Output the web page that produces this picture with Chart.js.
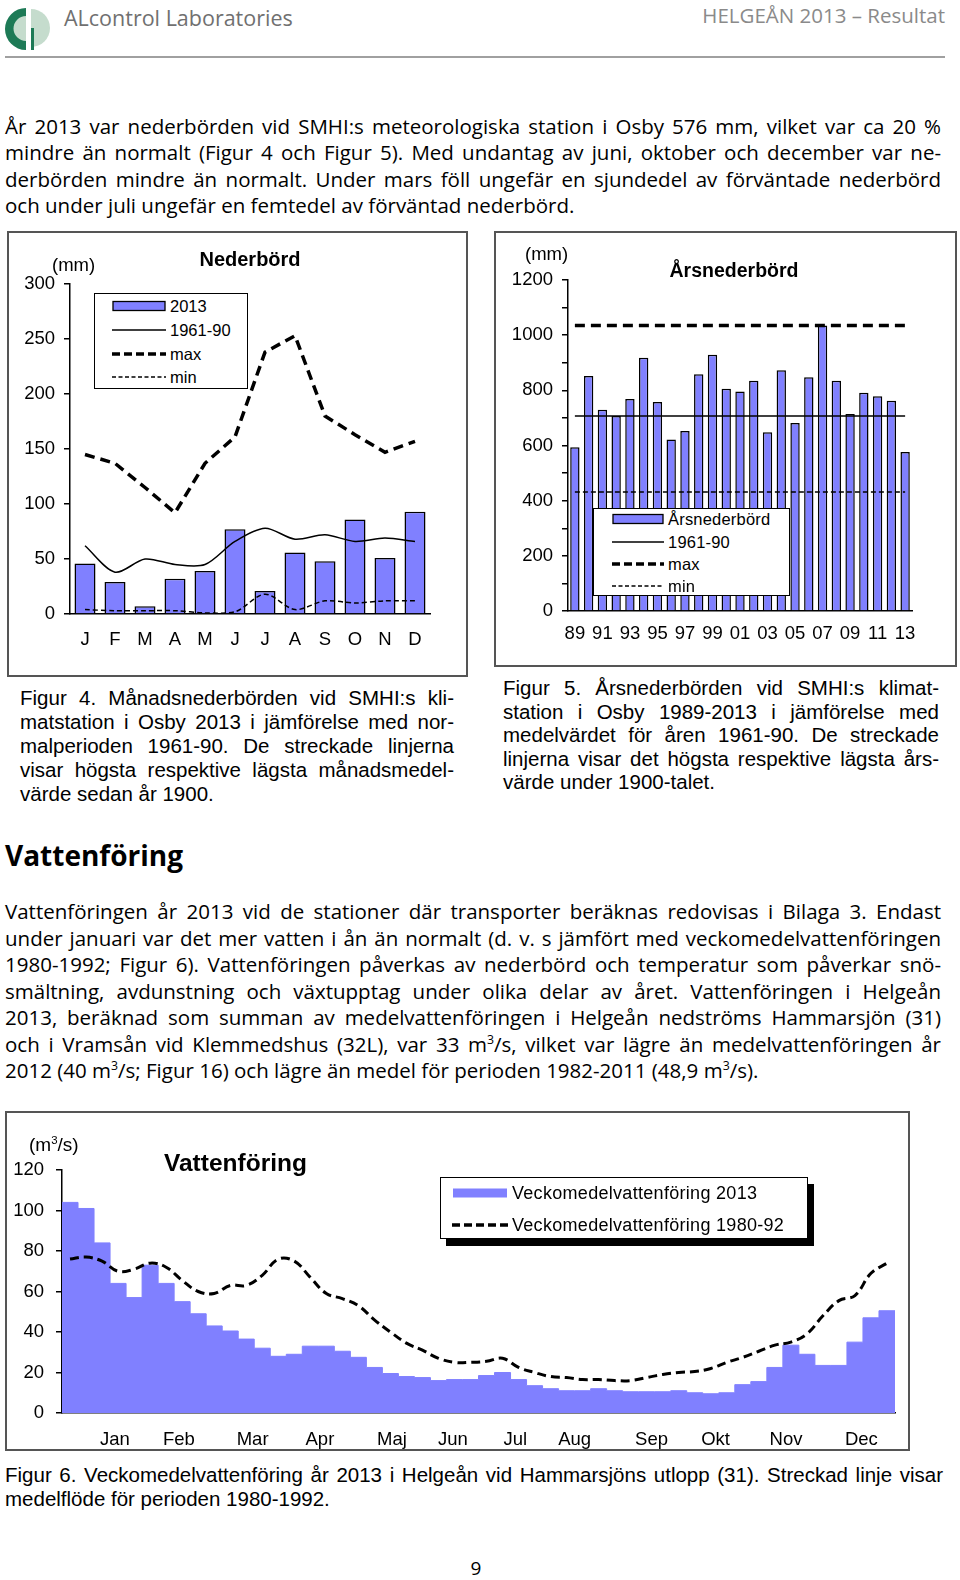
<!DOCTYPE html>
<html lang="sv">
<head>
<meta charset="utf-8">
<title>HELGEÅN 2013 – Resultat</title>
<script src="https://cdn.jsdelivr.net/npm/chart.js@4.4.0/dist/chart.umd.min.js"></script>
<style>
  body { margin: 0; background: #fff; }
  #page { position: relative; width: 960px; height: 1580px; overflow: hidden; color: #000; font-family: "Open Sans", sans-serif; }
  .a { position: absolute; white-space: nowrap; }
  .para { position: absolute; font-family: "Open Sans", sans-serif; font-size: 20.5px; }
  .cap { position: absolute; font-family: "Liberation Sans", Arial, sans-serif; font-size: 20.5px; }
  .ln { text-align: justify; text-align-last: justify; }
  .last { text-align: left; text-align-last: left; }
  .box { position: absolute; box-sizing: border-box; border: 2px solid #555; }
  .lbox { position: absolute; box-sizing: border-box; border: 1.5px solid #000; background: #fff; }
  canvas { position: absolute; }
  .cf { font-family: "Liberation Sans", Arial, sans-serif; }
  sup { font-size: 0.6em; line-height: 0; }
</style>
</head>
<body>
<div id="page">

  <!-- header -->
  <svg class="a" style="left:4px;top:4px" width="48" height="48" viewBox="0 0 48 48">
    <circle cx="27" cy="24" r="19" fill="#c5dccd"/>
    <path d="M22 4 A20 20 0 0 0 22 46 L22 37 A12 12 0 0 1 22 12 Z" fill="#1d7a56"/>
    <rect x="22" y="4" width="5" height="42" fill="#fff"/>
    <rect x="27" y="24" width="3" height="22" fill="#1d7a56"/>
  </svg>
  <div class="a" style="left:64px;top:4px;font-size:21.5px;line-height:28px;color:#707070">ALcontrol Laboratories</div>
  <div class="a" style="right:15px;top:2px;font-size:20.5px;line-height:26px;color:#8a8a8a">HELGEÅN 2013 – Resultat</div>
  <div class="a" style="left:5px;top:56px;width:940px;height:0;border-top:2px solid #a0a0a0"></div>

  <!-- paragraph 1 -->
  <div class="para" style="left:5px;top:113px;width:936px;line-height:26.3px">
    <div class="ln">År 2013 var nederbörden vid SMHI:s meteorologiska station i Osby 576 mm, vilket var ca 20 %</div>
    <div class="ln">mindre än normalt (Figur 4 och Figur 5). Med undantag av juni, oktober och december var ne-</div>
    <div class="ln">derbörden mindre än normalt. Under mars föll ungefär en sjundedel av förväntade nederbörd</div>
    <div class="ln last">och under juli ungefär en femtedel av förväntad nederbörd.</div>
  </div>

  <!-- chart 1 -->
  <div class="box" style="left:7px;top:231px;width:461px;height:446px"></div>
  <canvas id="c1" width="461" height="446" style="left:7px;top:231px"></canvas>
  <div class="a cf" style="left:52px;top:254px;font-size:18.5px;line-height:22px">(mm)</div>
  <div class="a cf" style="left:250px;top:247px;font-size:20px;line-height:24px;font-weight:bold;transform:translateX(-50%)">Nederbörd</div>
  <div class="lbox" style="left:94px;top:293px;width:154px;height:96px"></div>
  <div id="leg1"></div>

  <!-- chart 2 -->
  <div class="box" style="left:494px;top:231px;width:463px;height:436px"></div>
  <canvas id="c2" width="463" height="436" style="left:494px;top:231px"></canvas>
  <div class="a cf" style="left:525px;top:243px;font-size:18.5px;line-height:22px">(mm)</div>
  <div class="a cf" style="left:734px;top:258px;font-size:19.5px;line-height:24px;font-weight:bold;transform:translateX(-50%)">Årsnederbörd</div>
  <div class="lbox" style="left:593px;top:508px;width:197px;height:88px"></div>
  <div id="leg2"></div>

  <!-- captions 4 & 5 -->
  <div class="cap" style="left:20px;top:686px;width:434px;line-height:24px">
    <div class="ln">Figur 4. Månadsnederbörden vid SMHI:s kli-</div>
    <div class="ln">matstation i Osby 2013 i jämförelse med nor-</div>
    <div class="ln">malperioden 1961-90. De streckade linjerna</div>
    <div class="ln">visar högsta respektive lägsta månadsmedel-</div>
    <div class="ln last">värde sedan år 1900.</div>
  </div>
  <div class="cap" style="left:503px;top:676px;width:436px;line-height:23.5px">
    <div class="ln">Figur 5. Årsnederbörden vid SMHI:s klimat-</div>
    <div class="ln">station i Osby 1989-2013 i jämförelse med</div>
    <div class="ln">medelvärdet för åren 1961-90. De streckade</div>
    <div class="ln">linjerna visar det högsta respektive lägsta års-</div>
    <div class="ln last">värde under 1900-talet.</div>
  </div>

  <!-- section 2 -->
  <div class="a" style="left:5px;top:837px;font-size:28px;line-height:36px;font-weight:bold">Vattenföring</div>
  <div class="para" style="left:5px;top:898px;width:936px;line-height:26.5px">
    <div class="ln">Vattenföringen år 2013 vid de stationer där transporter beräknas redovisas i Bilaga 3. Endast</div>
    <div class="ln">under januari var det mer vatten i ån än normalt (d. v. s jämfört med veckomedelvattenföringen</div>
    <div class="ln">1980-1992; Figur 6). Vattenföringen påverkas av nederbörd och temperatur som påverkar snö-</div>
    <div class="ln">smältning, avdunstning och växtupptag under olika delar av året. Vattenföringen i Helgeån</div>
    <div class="ln">2013, beräknad som summan av medelvattenföringen i Helgeån nedströms Hammarsjön (31)</div>
    <div class="ln">och i Vramsån vid Klemmedshus (32L), var 33 m<sup>3</sup>/s, vilket var lägre än medelvattenföringen år</div>
    <div class="ln last">2012 (40 m<sup>3</sup>/s; Figur 16) och lägre än medel för perioden 1982-2011 (48,9 m<sup>3</sup>/s).</div>
  </div>

  <!-- chart 3 -->
  <div class="box" style="left:5px;top:1111px;width:905px;height:340px"></div>
  <canvas id="c3" width="905" height="340" style="left:5px;top:1111px"></canvas>
  <div class="a cf" style="left:29px;top:1133px;font-size:19px;line-height:24px">(m<sup>3</sup>/s)</div>
  <div class="a cf" style="left:164px;top:1148px;font-size:24.5px;line-height:30px;font-weight:bold">Vattenföring</div>
  <div class="lbox" style="left:440px;top:1177px;width:368px;height:62px;box-shadow:6px 7px 0 #000"></div>
  <div id="leg3"></div>

  <div class="cap" style="left:5px;top:1463px;width:938px;line-height:24px">
    <div class="ln">Figur 6. Veckomedelvattenföring år 2013 i Helgeån vid Hammarsjöns utlopp (31). Streckad linje visar</div>
    <div class="ln last">medelflöde för perioden 1980-1992.</div>
  </div>

  <div class="a" style="left:476px;top:1556px;font-size:19px;line-height:24px;transform:translateX(-50%)">9</div>
</div>

<script>
// ---- Figur 4: månadsnederbörd (mm)
const months = ['J', 'F', 'M', 'A', 'M', 'J', 'J', 'A', 'S', 'O', 'N', 'D'];
const rain2013 = [46, 29, 7, 32, 39, 77, 21, 56, 48, 86, 51, 93];
const rainNormal = [62, 38, 50, 45, 45, 66, 78, 68, 72, 66, 69, 66];
const rainMax = [145, 137, 115, 92, 137, 161, 238, 253, 180, 163, 147, 157];
const rainMin = [4, 3, 3, 3, 1, 2, 18, 4, 12, 10, 12, 12];

// ---- Figur 5: årsnederbörd (mm)
const years = ['89', '90', '91', '92', '93', '94', '95', '96', '97', '98', '99', '00', '01',
               '02', '03', '04', '05', '06', '07', '08', '09', '10', '11', '12', '13'];
const yearRain = [594, 852, 730, 707, 769, 918, 758, 622, 653, 858, 929, 806, 796,
                  835, 648, 873, 682, 847, 1035, 835, 714, 791, 779, 762, 576];
const yearNormal = 707;
const yearMax = 1035;
const yearMin = 431;

// ---- Figur 6: veckomedelvattenföring (m3/s)
const flow2013 = [104, 101, 84, 64, 57, 73, 64, 55, 49, 43, 40.5, 36.5, 32,
                  28, 29, 33, 33, 30.5, 27.5, 22.5, 19.5, 18, 17.5, 16, 16.5,
                  16.5, 18.5, 20, 16.5, 13.5, 12, 11, 11, 12, 11, 10.5,
                  10.5, 10.5, 11, 10, 9.5, 10, 14, 15.5, 22.5, 33.5, 29,
                  23.5, 23.5, 35, 47, 50.5];
const flowMean = [76, 77, 75, 70, 71, 74, 72, 65.5, 60, 59, 63, 63, 68,
                  76, 75, 67, 59, 56.5, 53, 46, 40, 34.5, 31, 27, 25,
                  25, 25.5, 27, 22.5, 20, 18, 17.5, 16.5, 16.5, 16, 16,
                  17.5, 19, 20, 20.5, 22, 25, 27.5, 30.5, 33.5, 35, 39,
                  48, 55.5, 58, 69, 74];
const monthNames = ['Jan', 'Feb', 'Mar', 'Apr', 'Maj', 'Jun', 'Jul', 'Aug', 'Sep', 'Okt', 'Nov', 'Dec'];
const monthWeeks = [3.3, 7.3, 11.9, 16.1, 20.6, 24.4, 28.3, 32.0, 36.8, 40.8, 45.2, 49.9];

const BLUE = '#8080ff';
const tickFont = { family: '"Liberation Sans", Arial, sans-serif', size: 18.5 };
const noPlugins = { legend: { display: false }, tooltip: { enabled: false } };

function yAxis(min, max, step, width, pad, cb) {
  return {
    min: min, max: max,
    ticks: { stepSize: step, font: tickFont, color: '#000', padding: pad, callback: cb },
    grid: { drawOnChartArea: false, drawTicks: true, tickLength: 6, color: '#000', lineWidth: 1.5 },
    border: { color: '#000', width: 1.5 },
    afterFit: s => { s.width = width; }
  };
}

new Chart(document.getElementById('c1'), {
  type: 'bar',
  data: {
    labels: months,
    datasets: [
      { type: 'line', data: rainNormal, borderColor: '#000', borderWidth: 1.5, pointRadius: 0, tension: 0.3, order: 0 },
      { type: 'line', data: rainMax, borderColor: '#000', borderWidth: 3.5, borderDash: [10, 6], pointRadius: 0, tension: 0, order: 0 },
      { type: 'line', data: rainMin, borderColor: '#000', borderWidth: 1.5, borderDash: [5, 3], pointRadius: 0, tension: 0.3, order: 0 },
      { data: rain2013, backgroundColor: BLUE, borderColor: '#000', borderWidth: 1.5, barPercentage: 0.7, categoryPercentage: 1, order: 1 }
    ]
  },
  options: {
    responsive: false, animation: false,
    layout: { padding: { top: 53, right: 38, left: 0, bottom: 0 } },
    plugins: noPlugins,
    scales: {
      x: { grid: { display: false }, border: { color: '#000', width: 1.5 },
           ticks: { font: tickFont, color: '#000', padding: 7, maxRotation: 0 },
           afterFit: s => { s.height = 63; } },
      y: yAxis(0, 300, 50, 63, 9)
    }
  }
});

new Chart(document.getElementById('c2'), {
  type: 'bar',
  data: {
    labels: years,
    datasets: [
      { type: 'line', data: years.map(() => yearNormal), borderColor: '#000', borderWidth: 1.5, pointRadius: 0, order: 0 },
      { type: 'line', data: years.map(() => yearMax), borderColor: '#000', borderWidth: 3.5, borderDash: [10, 6], pointRadius: 0, order: 0 },
      { type: 'line', data: years.map(() => yearMin), borderColor: '#000', borderWidth: 1.5, borderDash: [5, 3], pointRadius: 0, order: 0 },
      { data: yearRain, backgroundColor: BLUE, borderColor: '#000', borderWidth: 1.5, barPercentage: 0.68, categoryPercentage: 1, order: 1 }
    ]
  },
  options: {
    responsive: false, animation: false,
    layout: { padding: { top: 49, right: 45, left: 0, bottom: 0 } },
    plugins: noPlugins,
    scales: {
      x: { grid: { display: false }, border: { color: '#000', width: 1.5 },
           ticks: { font: tickFont, color: '#000', padding: 4, maxRotation: 0, autoSkip: false,
                    callback: (v, i) => (i % 2 === 0 ? years[i] : '') },
           afterFit: s => { s.height = 56; } },
      y: yAxis(0, 1200, 100, 74, 9, v => (v % 200 === 0 ? v : ''))
    }
  }
});

const stepData = flow2013.map((v, i) => ({ x: i, y: v }));
stepData.push({ x: flow2013.length, y: flow2013[flow2013.length - 1] });

new Chart(document.getElementById('c3'), {
  type: 'line',
  data: {
    datasets: [
      { data: flowMean.map((v, i) => ({ x: i + 0.5, y: v })), borderColor: '#000', borderWidth: 3,
        borderDash: [9, 5], pointRadius: 0, tension: 0.4, fill: false, order: 0 },
      { data: stepData, stepped: true, fill: 'origin', backgroundColor: BLUE, borderColor: BLUE,
        borderWidth: 1, pointRadius: 0, order: 1 }
    ]
  },
  options: {
    responsive: false, animation: false,
    layout: { padding: { top: 59, right: 15, left: 0, bottom: 0 } },
    plugins: noPlugins,
    scales: {
      x: { type: 'linear', min: 0, max: 52, grid: { display: false }, border: { color: '#000', width: 1.5 },
           afterBuildTicks: s => { s.ticks = monthWeeks.map(w => ({ value: w })); },
           ticks: { font: tickFont, color: '#000', padding: 8, maxRotation: 0, autoSkip: false,
                    callback: (v, i) => monthNames[i] },
           afterFit: s => { s.height = 38; } },
      y: yAxis(0, 120, 20, 57, 12)
    }
  }
});

// legends (html, so the text stays text)
function swatch(kind, w) {
  const ns = 'http://www.w3.org/2000/svg';
  const svg = document.createElementNS(ns, 'svg');
  svg.setAttribute('width', w); svg.setAttribute('height', 12);
  let el;
  if (kind === 'bar' || kind === 'flat') {
    el = document.createElementNS(ns, 'rect');
    el.setAttribute('x', 1); el.setAttribute('y', 1.5); el.setAttribute('width', w - 2); el.setAttribute('height', 9);
    el.setAttribute('fill', BLUE);
    if (kind === 'bar') { el.setAttribute('stroke', '#000'); el.setAttribute('stroke-width', 1.3); }
  } else {
    el = document.createElementNS(ns, 'line');
    el.setAttribute('x1', 0); el.setAttribute('x2', w); el.setAttribute('y1', 6); el.setAttribute('y2', 6);
    el.setAttribute('stroke', '#000');
    el.setAttribute('stroke-width', kind === 'thick' ? 3.5 : 1.4);
    if (kind === 'thick') el.setAttribute('stroke-dasharray', '8 4');
    if (kind === 'thin') el.setAttribute('stroke-dasharray', '4 2.5');
  }
  svg.appendChild(el);
  return svg;
}

function legend(id, items, sx, sw, tx, size, spacing) {
  const host = document.getElementById(id);
  items.forEach(([kind, label, yc]) => {
    const s = swatch(kind, sw);
    s.setAttribute('class', 'a');
    s.style.left = sx + 'px'; s.style.top = (yc - 6) + 'px';
    host.appendChild(s);
    const t = document.createElement('div');
    t.className = 'a cf';
    t.style.cssText = `left:${tx}px;top:${yc - 11}px;font-size:${size}px;line-height:22px;letter-spacing:${spacing}px`;
    t.textContent = label;
    host.appendChild(t);
  });
}

legend('leg1', [['bar', '2013', 306], ['solid', '1961-90', 330], ['thick', 'max', 354], ['thin', 'min', 377]],
       112, 54, 170, 16.5, 0);
legend('leg2', [['bar', 'Årsnederbörd', 519], ['solid', '1961-90', 542], ['thick', 'max', 564], ['thin', 'min', 586]],
       612, 52, 668, 16.5, 0.2);
legend('leg3', [['flat', 'Veckomedelvattenföring 2013', 1193], ['thick', 'Veckomedelvattenföring 1980-92', 1225]],
       452, 56, 512, 18, 0.3);
</script>
</body>
</html>
